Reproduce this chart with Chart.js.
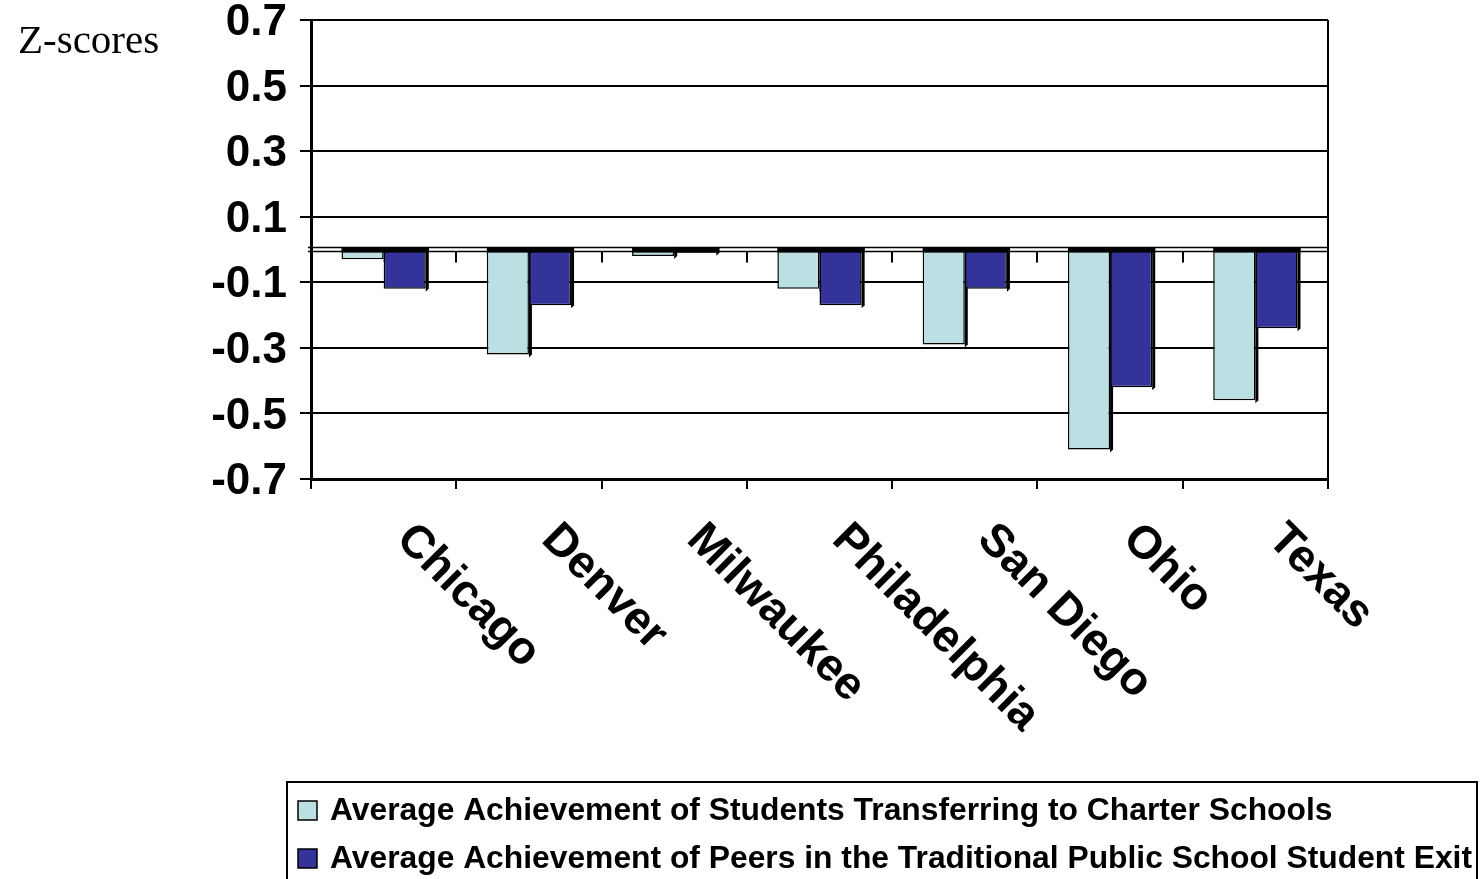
<!DOCTYPE html>
<html>
<head>
<meta charset="utf-8">
<script src="https://cdn.jsdelivr.net/npm/chart.js@4.4.1/dist/chart.umd.min.js"></script>
<style>
  html, body { margin: 0; padding: 0; background: #fff; }
  canvas { display: block; }
</style>
</head>
<body>
<canvas id="c" width="1480" height="879"></canvas>
<script>
// Categories and series values (z-scores)
const categories = ['Chicago', 'Denver', 'Milwaukee', 'Philadelphia', 'San Diego', 'Ohio', 'Texas'];
const transferLabel = 'Average Achievement of Students Transferring to Charter Schools';
const peersLabel = 'Average Achievement of Peers in the Traditional Public School Student Exit';
const transferValues = [-0.03, -0.32, -0.02, -0.12, -0.29, -0.61, -0.46];
const peersValues = [-0.12, -0.17, -0.01, -0.17, -0.12, -0.42, -0.24];
const yMin = -0.7, yMax = 0.7, yStep = 0.2;
const axisTitle = 'Z-scores';

const SANS = '"Liberation Sans", Arial, sans-serif';
const SERIF = '"Liberation Serif", "Times New Roman", serif';

// Side faces of the bars (drawn first so neighbouring bars overlap them)
const barSides = {
  id: 'barSides',
  beforeDatasetsDraw(chart) {
    const ctx = chart.ctx;
    const d = 3;
    ctx.save();
    chart.data.datasets.forEach((ds, i) => {
      chart.getDatasetMeta(i).data.forEach(bar => {
        const { x, y, base, width } = bar.getProps(['x', 'y', 'base', 'width'], true);
        const r = x + width / 2;
        ctx.fillStyle = '#000';
        ctx.beginPath();
        ctx.moveTo(r, base);
        ctx.lineTo(r + d, base - d);
        ctx.lineTo(r + d, y - d + 3);
        ctx.lineTo(r, y + 3);
        ctx.closePath();
        ctx.fill();
      });
    });
    ctx.restore();
  }
};

// Floor lines, top faces, category labels, axis title, frame and legend
const decorations = {
  id: 'decorations',
  afterDatasetsDraw(chart) {
    const ctx = chart.ctx;
    const area = chart.chartArea;
    const yScale = chart.scales.y;
    const xScale = chart.scales.x;
    const y0 = yScale.getPixelForValue(0);
    ctx.save();
    // floor (zero plane) double line
    ctx.strokeStyle = '#000';
    ctx.lineWidth = 1.5;
    ctx.beginPath();
    ctx.moveTo(area.left - 3, y0 - 2); ctx.lineTo(area.right, y0 - 2);
    ctx.moveTo(area.left - 3, y0 + 2); ctx.lineTo(area.right, y0 + 2);
    ctx.stroke();
    // small category ticks below the floor
    ctx.lineWidth = 2;
    ctx.beginPath();
    for (let i = 0; i <= categories.length; i++) {
      const xp = Math.round(area.left + (area.right - area.left) * i / categories.length);
      ctx.moveTo(xp, y0 + 2); ctx.lineTo(xp, y0 + 13);
    }
    ctx.stroke();
    // top faces of bars at the floor
    chart.data.datasets.forEach((ds, i) => {
      chart.getDatasetMeta(i).data.forEach(bar => {
        const { x, base, width } = bar.getProps(['x', 'base', 'width'], true);
        ctx.fillStyle = '#000';
        ctx.fillRect(x - width / 2, base - 2, width + 3, 5);
      });
    });
    // right frame line
    ctx.lineWidth = 2;
    ctx.beginPath();
    ctx.moveTo(area.right, area.top); ctx.lineTo(area.right, area.bottom);
    ctx.stroke();
    // rotated category labels
    ctx.fillStyle = '#000';
    ctx.font = 'bold 46px ' + SANS;
    ctx.textAlign = 'left';
    ctx.textBaseline = 'alphabetic';
    categories.forEach((lab, i) => {
      const xc = xScale.getPixelForValue(i);
      ctx.save();
      ctx.translate(xc + 11, area.bottom + 62);
      ctx.rotate(Math.PI / 4);
      ctx.fillText(lab, 0, 0);
      ctx.restore();
    });
    // axis title
    ctx.font = '41px ' + SERIF;
    ctx.fillText(axisTitle, 18, 53);
    // legend
    const lx = 287, ly = 782, lw = 1190, lh = 120;
    ctx.lineWidth = 2;
    ctx.strokeStyle = '#000';
    ctx.strokeRect(lx, ly, lw, lh);
    ctx.font = 'bold 31.8px ' + SANS;
    ctx.textBaseline = 'middle';
    chart.data.datasets.forEach((ds, i) => {
      const cy = 810 + i * 48;
      ctx.fillStyle = ds.backgroundColor;
      ctx.fillRect(298, cy - 9, 19, 19);
      ctx.lineWidth = 1.5;
      ctx.strokeRect(298, cy - 9, 19, 19);
      ctx.fillStyle = '#000';
      ctx.fillText(ds.label, 330, cy + 1);
    });
    ctx.restore();
  }
};

new Chart(document.getElementById('c'), {
  type: 'bar',
  data: {
    labels: categories,
    datasets: [
      { label: transferLabel, data: transferValues, backgroundColor: '#BBE0E3',
        borderColor: '#000', borderWidth: 1.5 },
      { label: peersLabel, data: peersValues, backgroundColor: '#333399',
        borderColor: '#000', borderWidth: 1.5 }
    ]
  },
  options: {
    responsive: false,
    animation: false,
    layout: { padding: { top: 20, right: 152, left: 0, bottom: 0 } },
    datasets: { bar: { categoryPercentage: 0.58, barPercentage: 1.0 } },
    plugins: { legend: { display: false }, tooltip: { enabled: false } },
    scales: {
      x: {
        offset: true,
        ticks: { display: false },
        grid: { display: true, drawOnChartArea: false, drawTicks: true, tickLength: 10,
                color: '#000', lineWidth: 2 },
        border: { display: true, color: '#000', width: 3 },
        afterFit(s) { s.height = 879 - 479; s.paddingLeft = 0; s.paddingRight = 0; }
      },
      y: {
        min: yMin, max: yMax,
        ticks: { stepSize: yStep, padding: 13, color: '#000', labelOffset: 3,
                 font: { family: SANS, size: 44, weight: 'bold' },
                 callback: v => Number(v).toFixed(1) },
        grid: { color: '#000', lineWidth: 2, tickLength: 11 },
        border: { display: true, color: '#000', width: 3 },
        afterFit(s) { s.width = 311; s.paddingTop = 0; s.paddingBottom = 0; }
      }
    }
  },
  plugins: [barSides, decorations]
});
</script>
</body>
</html>
